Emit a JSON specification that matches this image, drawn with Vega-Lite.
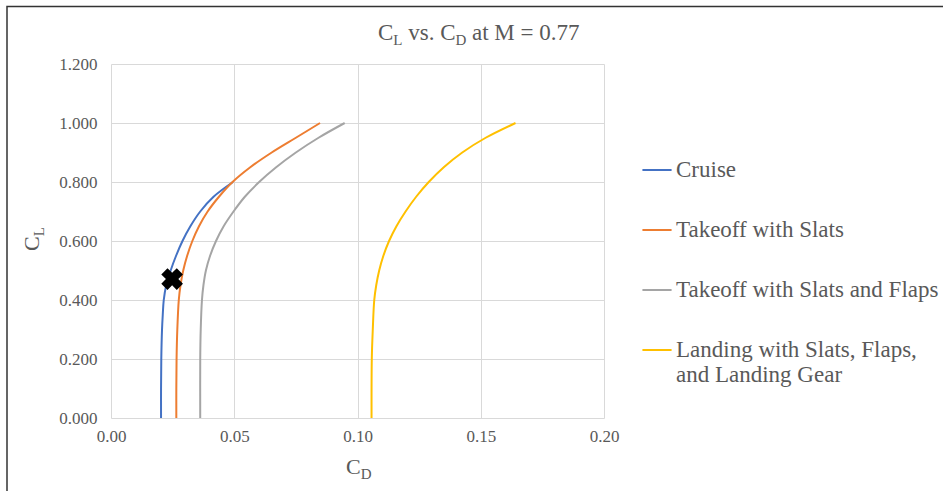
{
  "$schema": "https://vega.github.io/schema/vega-lite/v6.json",
  "width": 493,
  "height": 354,
  "autosize": {"type": "none"},
  "padding": {"left": 111, "top": 64, "right": 339, "bottom": 73},
  "background": "white",
  "config": {
    "view": {"stroke": null},
    "font": "Liberation Serif",
    "axis": {
      "grid": true,
      "gridColor": "#d9d9d9",
      "gridWidth": 1,
      "domain": false,
      "ticks": false,
      "labelFont": "Liberation Serif",
      "labelFontSize": 17,
      "labelColor": "#595959"
    },
    "legend": {
      "labelFont": "Liberation Serif",
      "labelFontSize": 23,
      "labelColor": "#595959",
      "labelLimit": 400
    }
  },
  "datasets": {
    "polars": [
      {"config": "Cruise", "cl": 0.0, "cd": 0.0203},
      {"config": "Cruise", "cl": 0.1, "cd": 0.0203},
      {"config": "Cruise", "cl": 0.2, "cd": 0.0204},
      {"config": "Cruise", "cl": 0.3, "cd": 0.0207},
      {"config": "Cruise", "cl": 0.35, "cd": 0.0210},
      {"config": "Cruise", "cl": 0.4, "cd": 0.0214},
      {"config": "Cruise", "cl": 0.45, "cd": 0.0224},
      {"config": "Cruise", "cl": 0.5, "cd": 0.0242},
      {"config": "Cruise", "cl": 0.55, "cd": 0.0264},
      {"config": "Cruise", "cl": 0.6, "cd": 0.0290},
      {"config": "Cruise", "cl": 0.65, "cd": 0.0322},
      {"config": "Cruise", "cl": 0.7, "cd": 0.0362},
      {"config": "Cruise", "cl": 0.75, "cd": 0.0416},
      {"config": "Cruise", "cl": 0.8, "cd": 0.0495},
      {"config": "Takeoff with Slats", "cl": 0.0, "cd": 0.0265},
      {"config": "Takeoff with Slats", "cl": 0.1, "cd": 0.0265},
      {"config": "Takeoff with Slats", "cl": 0.2, "cd": 0.0266},
      {"config": "Takeoff with Slats", "cl": 0.3, "cd": 0.0269},
      {"config": "Takeoff with Slats", "cl": 0.4, "cd": 0.0275},
      {"config": "Takeoff with Slats", "cl": 0.45, "cd": 0.0282},
      {"config": "Takeoff with Slats", "cl": 0.5, "cd": 0.0293},
      {"config": "Takeoff with Slats", "cl": 0.55, "cd": 0.0309},
      {"config": "Takeoff with Slats", "cl": 0.6, "cd": 0.0330},
      {"config": "Takeoff with Slats", "cl": 0.65, "cd": 0.0357},
      {"config": "Takeoff with Slats", "cl": 0.7, "cd": 0.0392},
      {"config": "Takeoff with Slats", "cl": 0.75, "cd": 0.0438},
      {"config": "Takeoff with Slats", "cl": 0.8, "cd": 0.0493},
      {"config": "Takeoff with Slats", "cl": 0.85, "cd": 0.0565},
      {"config": "Takeoff with Slats", "cl": 0.9, "cd": 0.0652},
      {"config": "Takeoff with Slats", "cl": 0.95, "cd": 0.0750},
      {"config": "Takeoff with Slats", "cl": 1.0, "cd": 0.0848},
      {"config": "Takeoff with Slats and Flaps", "cl": 0.0, "cd": 0.0362},
      {"config": "Takeoff with Slats and Flaps", "cl": 0.2, "cd": 0.0362},
      {"config": "Takeoff with Slats and Flaps", "cl": 0.3, "cd": 0.0364},
      {"config": "Takeoff with Slats and Flaps", "cl": 0.4, "cd": 0.0369},
      {"config": "Takeoff with Slats and Flaps", "cl": 0.45, "cd": 0.0375},
      {"config": "Takeoff with Slats and Flaps", "cl": 0.5, "cd": 0.0385},
      {"config": "Takeoff with Slats and Flaps", "cl": 0.55, "cd": 0.0402},
      {"config": "Takeoff with Slats and Flaps", "cl": 0.6, "cd": 0.0426},
      {"config": "Takeoff with Slats and Flaps", "cl": 0.65, "cd": 0.0457},
      {"config": "Takeoff with Slats and Flaps", "cl": 0.7, "cd": 0.0497},
      {"config": "Takeoff with Slats and Flaps", "cl": 0.75, "cd": 0.0543},
      {"config": "Takeoff with Slats and Flaps", "cl": 0.8, "cd": 0.0601},
      {"config": "Takeoff with Slats and Flaps", "cl": 0.85, "cd": 0.0670},
      {"config": "Takeoff with Slats and Flaps", "cl": 0.9, "cd": 0.0750},
      {"config": "Takeoff with Slats and Flaps", "cl": 0.95, "cd": 0.0842},
      {"config": "Takeoff with Slats and Flaps", "cl": 1.0, "cd": 0.0948},
      {"config": "Landing with Slats, Flaps, and Landing Gear", "cl": 0.0, "cd": 0.1057},
      {"config": "Landing with Slats, Flaps, and Landing Gear", "cl": 0.2, "cd": 0.1058},
      {"config": "Landing with Slats, Flaps, and Landing Gear", "cl": 0.3, "cd": 0.1062},
      {"config": "Landing with Slats, Flaps, and Landing Gear", "cl": 0.4, "cd": 0.1068},
      {"config": "Landing with Slats, Flaps, and Landing Gear", "cl": 0.45, "cd": 0.1076},
      {"config": "Landing with Slats, Flaps, and Landing Gear", "cl": 0.5, "cd": 0.1088},
      {"config": "Landing with Slats, Flaps, and Landing Gear", "cl": 0.55, "cd": 0.1105},
      {"config": "Landing with Slats, Flaps, and Landing Gear", "cl": 0.6, "cd": 0.1128},
      {"config": "Landing with Slats, Flaps, and Landing Gear", "cl": 0.65, "cd": 0.1158},
      {"config": "Landing with Slats, Flaps, and Landing Gear", "cl": 0.7, "cd": 0.1195},
      {"config": "Landing with Slats, Flaps, and Landing Gear", "cl": 0.75, "cd": 0.1238},
      {"config": "Landing with Slats, Flaps, and Landing Gear", "cl": 0.8, "cd": 0.1289},
      {"config": "Landing with Slats, Flaps, and Landing Gear", "cl": 0.85, "cd": 0.1350},
      {"config": "Landing with Slats, Flaps, and Landing Gear", "cl": 0.9, "cd": 0.1425},
      {"config": "Landing with Slats, Flaps, and Landing Gear", "cl": 0.95, "cd": 0.1520},
      {"config": "Landing with Slats, Flaps, and Landing Gear", "cl": 1.0, "cd": 0.1641}
    ],
    "designPoint": [{"cd": 0.0248, "cl": 0.471}]
  },
  "layer": [
    {
      "data": {"name": "polars"},
      "mark": {"type": "line", "strokeWidth": 2, "interpolate": "catmull-rom"},
      "encoding": {
        "x": {"field": "cd", "type": "quantitative",
              "scale": {"domain": [0, 0.2], "nice": false},
              "axis": {"title": null, "values": [0, 0.05, 0.1, 0.15, 0.2], "format": ".2f",
                       "labelPadding": 10, "labelFlush": false,
                       "labelFont": "Liberation Serif", "labelFontSize": 17, "labelColor": "#595959"}},
        "y": {"field": "cl", "type": "quantitative",
              "scale": {"domain": [0, 1.2], "nice": false},
              "axis": {"title": null, "values": [0, 0.2, 0.4, 0.6, 0.8, 1.0, 1.2], "format": ".3f",
                       "labelPadding": 14,
                       "labelFont": "Liberation Serif", "labelFontSize": 17, "labelColor": "#595959"}},
        "order": {"field": "cl", "type": "quantitative"},
        "color": {
          "field": "config", "type": "nominal",
          "scale": {
            "domain": ["Cruise", "Takeoff with Slats", "Takeoff with Slats and Flaps", "Landing with Slats, Flaps, and Landing Gear"],
            "range": ["#4472C4", "#ED7D31", "#A5A5A5", "#FFC000"]
          },
          "legend": {
            "title": null,
            "orient": "none",
            "legendX": 530,
            "legendY": 90,
            "symbolType": "stroke",
            "symbolSize": 850,
            "symbolStrokeWidth": 2,
            "labelOffset": 3,
            "rowPadding": 32,
            "labelExpr": "datum.label == 'Landing with Slats, Flaps, and Landing Gear' ? ['Landing with Slats, Flaps,', 'and Landing Gear'] : datum.label"
          }
        }
      }
    },
    {
      "data": {"name": "designPoint"},
      "mark": {"type": "point", "shape": "cross", "angle": 45, "filled": true, "size": 480, "color": "#000000", "opacity": 1},
      "encoding": {
        "x": {"field": "cd", "type": "quantitative"},
        "y": {"field": "cl", "type": "quantitative"}
      }
    },
    {
      "data": {"values": [{}]},
      "mark": {"type": "text", "text": "C", "font": "Liberation Serif", "fontSize": 23, "color": "#595959", "align": "left", "baseline": "alphabetic"},
      "encoding": {"x": {"value": 267}, "y": {"value": -24}}
    },
    {
      "data": {"values": [{}]},
      "mark": {"type": "text", "text": "L", "font": "Liberation Serif", "fontSize": 15, "color": "#595959", "align": "left", "baseline": "alphabetic"},
      "encoding": {"x": {"value": 282.3}, "y": {"value": -19}}
    },
    {
      "data": {"values": [{}]},
      "mark": {"type": "text", "text": "vs. C", "font": "Liberation Serif", "fontSize": 23, "color": "#595959", "align": "left", "baseline": "alphabetic"},
      "encoding": {"x": {"value": 297.3}, "y": {"value": -24}}
    },
    {
      "data": {"values": [{}]},
      "mark": {"type": "text", "text": "D", "font": "Liberation Serif", "fontSize": 15, "color": "#595959", "align": "left", "baseline": "alphabetic"},
      "encoding": {"x": {"value": 344.5}, "y": {"value": -19}}
    },
    {
      "data": {"values": [{}]},
      "mark": {"type": "text", "text": "at M = 0.77", "font": "Liberation Serif", "fontSize": 23, "color": "#595959", "align": "left", "baseline": "alphabetic"},
      "encoding": {"x": {"value": 361}, "y": {"value": -24}}
    },
    {
      "data": {"values": [{}]},
      "mark": {"type": "text", "text": "C", "font": "Liberation Serif", "fontSize": 22, "color": "#595959", "align": "left", "baseline": "alphabetic"},
      "encoding": {"x": {"value": 235}, "y": {"value": 410}}
    },
    {
      "data": {"values": [{}]},
      "mark": {"type": "text", "text": "D", "font": "Liberation Serif", "fontSize": 15, "color": "#595959", "align": "left", "baseline": "alphabetic"},
      "encoding": {"x": {"value": 249.7}, "y": {"value": 415}}
    },
    {
      "data": {"values": [{}]},
      "mark": {"type": "text", "text": "C", "font": "Liberation Serif", "fontSize": 22, "color": "#595959", "align": "left", "baseline": "alphabetic", "angle": 270},
      "encoding": {"x": {"value": -72}, "y": {"value": 187}}
    },
    {
      "data": {"values": [{}]},
      "mark": {"type": "text", "text": "L", "font": "Liberation Serif", "fontSize": 15, "color": "#595959", "align": "left", "baseline": "alphabetic", "angle": 270},
      "encoding": {"x": {"value": -67}, "y": {"value": 172.3}}
    },
    {
      "data": {"values": [{}]},
      "mark": {"type": "rect", "fill": null, "stroke": "#333333", "strokeWidth": 1.5},
      "encoding": {"x": {"value": -104}, "y": {"value": -57.5}, "x2": {"value": 845}, "y2": {"value": 440}}
    }
  ]
}
